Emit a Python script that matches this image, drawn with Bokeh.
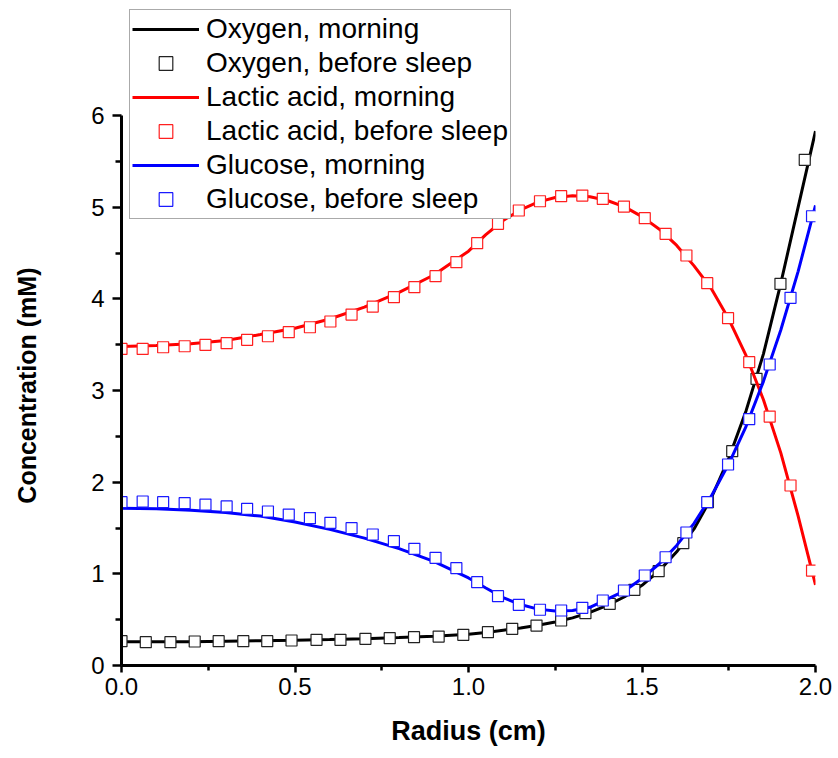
from bokeh.plotting import figure
from bokeh.models import Range1d, FixedTicker, NumeralTickFormatter, Legend, LegendItem
from bokeh.embed import file_html
from bokeh.resources import INLINE

# ---- line (morning) data ----
radius_line = [0.0, 0.1, 0.2, 0.3, 0.4, 0.5, 0.6, 0.7, 0.8, 0.9, 1.0,
               1.05, 1.1, 1.15, 1.2, 1.25, 1.3, 1.35, 1.4, 1.45, 1.5,
               1.55, 1.6, 1.65, 1.7, 1.75, 1.8, 1.85, 1.9, 1.95, 2.0]
oxygen_morning = [0.26, 0.26, 0.26, 0.265, 0.27, 0.275, 0.283, 0.293, 0.305, 0.32, 0.34,
                  0.36, 0.385, 0.41, 0.44, 0.475, 0.52, 0.58, 0.655, 0.75, 0.875,
                  1.035, 1.24, 1.49, 1.83, 2.26, 2.78, 3.40, 4.17, 5.00, 5.83]
lactic_morning = [3.48, 3.49, 3.51, 3.545, 3.61, 3.68, 3.78, 3.91, 4.07, 4.26, 4.52,
                  4.70, 4.855, 4.97, 5.055, 5.105, 5.124, 5.114, 5.073, 5.003, 4.897,
                  4.76, 4.583, 4.36, 4.11, 3.78, 3.38, 2.90, 2.32, 1.63, 0.88]
glucose_morning = [1.715, 1.71, 1.695, 1.67, 1.63, 1.565, 1.485, 1.39, 1.275, 1.135, 0.955,
                   0.845, 0.74, 0.665, 0.615, 0.595, 0.60, 0.635, 0.725, 0.815, 0.95,
                   1.11, 1.31, 1.55, 1.85, 2.20, 2.61, 3.10, 3.66, 4.30, 5.02]

# ---- marker (before sleep) data ----
radius_oxygen = [0.0, 0.07, 0.141, 0.211, 0.28, 0.351, 0.42, 0.49, 0.562, 0.631,
                 0.703, 0.773, 0.843, 0.914, 0.985, 1.056, 1.126, 1.196, 1.267, 1.337,
                 1.407, 1.478, 1.548, 1.619, 1.69, 1.76, 1.83, 1.899, 1.969]
oxygen_before = [0.265, 0.254, 0.254, 0.262, 0.265, 0.265, 0.265, 0.273, 0.28, 0.28,
                 0.291, 0.298, 0.309, 0.316, 0.335, 0.364, 0.40, 0.436, 0.491, 0.571,
                 0.673, 0.826, 1.029, 1.334, 1.782, 2.338, 3.128, 4.164, 5.517]

radius_lg = [0.0, 0.061, 0.12, 0.182, 0.242, 0.303, 0.362, 0.422, 0.482, 0.543,
             0.602, 0.663, 0.724, 0.785, 0.844, 0.905, 0.965, 1.025, 1.085, 1.145,
             1.206, 1.267, 1.328, 1.387, 1.448, 1.508, 1.568, 1.628, 1.688, 1.748,
             1.809, 1.868, 1.928, 1.99]
lactic_before = [3.454, 3.454, 3.472, 3.483, 3.498, 3.516, 3.553, 3.592, 3.636, 3.69,
                 3.753, 3.829, 3.916, 4.018, 4.127, 4.247, 4.40, 4.607, 4.818, 4.964,
                 5.065, 5.12, 5.127, 5.091, 5.007, 4.88, 4.709, 4.473, 4.171, 3.789,
                 3.309, 2.716, 1.964, 1.036]
glucose_before = [1.782, 1.789, 1.782, 1.771, 1.756, 1.735, 1.709, 1.68, 1.647, 1.607,
                  1.557, 1.498, 1.429, 1.356, 1.273, 1.175, 1.062, 0.909, 0.756, 0.662,
                  0.608, 0.60, 0.629, 0.709, 0.818, 0.982, 1.181, 1.451, 1.782, 2.193,
                  2.688, 3.284, 4.011, 4.901]

x_ticks = [0.0, 0.5, 1.0, 1.5, 2.0]
x_minor = [0.25, 0.75, 1.25, 1.75]
y_ticks = [0, 1, 2, 3, 4, 5, 6]
y_minor = [0.5, 1.5, 2.5, 3.5, 4.5, 5.5]

FONT = "Liberation Sans"

# frame spans from the top of the page (room for the legend) down to y = 0;
# the y axis itself is bounded to 0..6
p = figure(width=838, height=758, output_backend="svg", toolbar_location=None,
           x_range=Range1d(0, 2.0), y_range=Range1d(0, 7.244),
           min_border_left=121, min_border_right=23, min_border_top=1,
           min_border_bottom=93)
p.outline_line_color = None
p.xgrid.visible = False
p.ygrid.visible = False
p.background_fill_color = "white"
p.border_fill_color = "white"

MS = 11
r1 = p.line(radius_line, oxygen_morning, line_color="black", line_width=3)
r2 = p.scatter(radius_oxygen, oxygen_before, marker="square", size=MS,
               fill_color="white", line_color="#222222", line_width=1.2)
r3 = p.line(radius_line, lactic_morning, line_color="#ff0000", line_width=3)
r4 = p.scatter(radius_lg, lactic_before, marker="square", size=MS,
               fill_color="white", line_color="#ff2020", line_width=1.2)
r5 = p.line(radius_line, glucose_morning, line_color="#0000ff", line_width=3)
r6 = p.scatter(radius_lg, glucose_before, marker="square", size=MS,
               fill_color="white", line_color="#1a1aff", line_width=1.2)

for ax in (p.xaxis[0], p.yaxis[0]):
    ax.axis_line_width = 3
    ax.major_tick_line_width = 2.5
    ax.minor_tick_line_width = 2.5
    ax.major_tick_in = 0
    ax.minor_tick_in = 0
    ax.major_label_text_font = FONT
    ax.major_label_text_font_size = "24px"
    ax.major_label_text_color = "black"
    ax.axis_label_text_font = FONT
    ax.axis_label_text_font_style = "bold"
    ax.axis_label_text_color = "black"

p.xaxis[0].ticker = FixedTicker(ticks=x_ticks, minor_ticks=x_minor)
p.xaxis[0].formatter = NumeralTickFormatter(format="0.0")
p.xaxis[0].major_tick_out = 7
p.xaxis[0].minor_tick_out = 5
p.xaxis[0].major_label_standoff = 5
p.xaxis[0].axis_label = "Radius (cm)"
p.xaxis[0].axis_label_text_font_size = "27px"
p.xaxis[0].axis_label_standoff = 18

p.yaxis[0].ticker = FixedTicker(ticks=y_ticks, minor_ticks=y_minor)
p.yaxis[0].bounds = (0, 6)
p.yaxis[0].major_tick_out = 9
p.yaxis[0].minor_tick_out = 6
p.yaxis[0].major_label_standoff = 8
# trailing no-break spaces shift the (frame-centred) title down onto the 0..6 span
p.yaxis[0].axis_label = "Concentration (mM)" + "\u00a0" * 15
p.yaxis[0].axis_label_text_font_size = "25px"
p.yaxis[0].axis_label_standoff = 47

legend = Legend(items=[
    LegendItem(label="Oxygen, morning", renderers=[r1]),
    LegendItem(label="Oxygen, before sleep", renderers=[r2]),
    LegendItem(label="Lactic acid, morning", renderers=[r3]),
    LegendItem(label="Lactic acid, before sleep", renderers=[r4]),
    LegendItem(label="Glucose, morning", renderers=[r5]),
    LegendItem(label="Glucose, before sleep", renderers=[r6]),
], location="top_left")
legend.label_text_font = FONT
legend.label_text_font_size = "28px"
legend.label_text_color = "black"
legend.glyph_width = 67
legend.glyph_height = 34
legend.label_height = 34
legend.spacing = 0
legend.padding = 2
legend.margin = 8
legend.label_standoff = 7
legend.border_line_color = "#555555"
legend.border_line_width = 1
legend.background_fill_color = "white"
legend.background_fill_alpha = 1.0
p.add_layout(legend, "center")

open("out.html", "w").write(file_html(p, INLINE))
